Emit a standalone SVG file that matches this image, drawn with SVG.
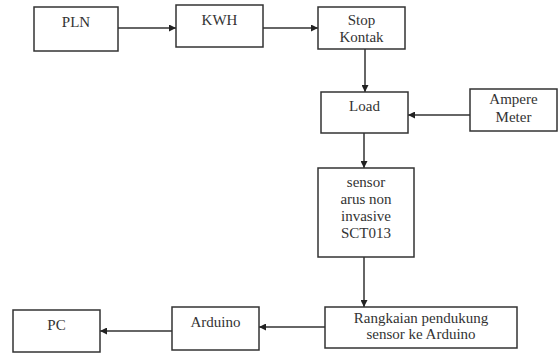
<svg xmlns="http://www.w3.org/2000/svg" width="558" height="354" viewBox="0 0 558 354">
<defs>
<marker id="ah" viewBox="0 0 10 10" refX="10" refY="5" markerWidth="7" markerHeight="7" markerUnits="userSpaceOnUse" orient="auto">
<path d="M0,0 L10,5 L0,10 z" fill="#222"/>
</marker>
<style>
.box{fill:#fff;stroke:#333;stroke-width:1.5}
.t{font-family:'Liberation Serif','DejaVu Serif',serif;font-size:15px;fill:#333;text-anchor:middle}
.c{stroke:#333;stroke-width:1.5;fill:none;marker-end:url(#ah)}
</style>
</defs>
<rect width="558" height="354" fill="#fff"/>
<g id="connectors">
<line class="c" x1="118" y1="28" x2="176" y2="28"/>
<line class="c" x1="263" y1="28" x2="318" y2="28"/>
<line class="c" x1="365" y1="49" x2="365" y2="92"/>
<line class="c" x1="470" y1="115" x2="408" y2="115"/>
<line class="c" x1="364" y1="133" x2="364" y2="168"/>
<line class="c" x1="364" y1="257" x2="364" y2="307"/>
<line class="c" x1="325" y1="327" x2="259" y2="327"/>
<line class="c" x1="172" y1="331" x2="100" y2="331"/>
</g>
<g id="pln"><rect class="box" x="34" y="7" width="84" height="44"/><text class="t" x="76" y="27" font-family="Liberation Serif, serif">PLN</text></g>
<g id="kwh"><rect class="box" x="176" y="5" width="87" height="42"/><text class="t" x="219.5" y="25" font-family="Liberation Serif, serif">KWH</text></g>
<g id="stop"><rect class="box" x="318" y="7" width="87" height="42"/><text class="t" x="361.5" y="25" font-family="Liberation Serif, serif">Stop</text><text class="t" x="361.5" y="42" font-family="Liberation Serif, serif">Kontak</text></g>
<g id="load"><rect class="box" x="321" y="92" width="87" height="41"/><text class="t" x="364.5" y="111" font-family="Liberation Serif, serif">Load</text></g>
<g id="ampere"><rect class="box" x="470" y="89" width="87" height="42"/><text class="t" x="513.5" y="104" font-family="Liberation Serif, serif">Ampere</text><text class="t" x="513.5" y="122" font-family="Liberation Serif, serif">Meter</text></g>
<g id="sensor"><rect class="box" x="318" y="168" width="96" height="89"/><text class="t" x="366" y="187" font-family="Liberation Serif, serif">sensor</text><text class="t" x="366" y="204" font-family="Liberation Serif, serif">arus non</text><text class="t" x="366" y="221" font-family="Liberation Serif, serif">invasive</text><text class="t" x="366" y="238" font-family="Liberation Serif, serif">SCT013</text></g>
<g id="rangkaian"><rect class="box" x="325" y="307" width="192" height="41"/><text class="t" x="421" y="323" font-family="Liberation Serif, serif">Rangkaian pendukung</text><text class="t" x="421" y="339" font-family="Liberation Serif, serif">sensor ke Arduino</text></g>
<g id="arduino"><rect class="box" x="172" y="307" width="87" height="43"/><text class="t" x="215.5" y="327" font-family="Liberation Serif, serif">Arduino</text></g>
<g id="pc"><rect class="box" x="13" y="310" width="87" height="42"/><text class="t" x="56.5" y="330" font-family="Liberation Serif, serif">PC</text></g>
</svg>
